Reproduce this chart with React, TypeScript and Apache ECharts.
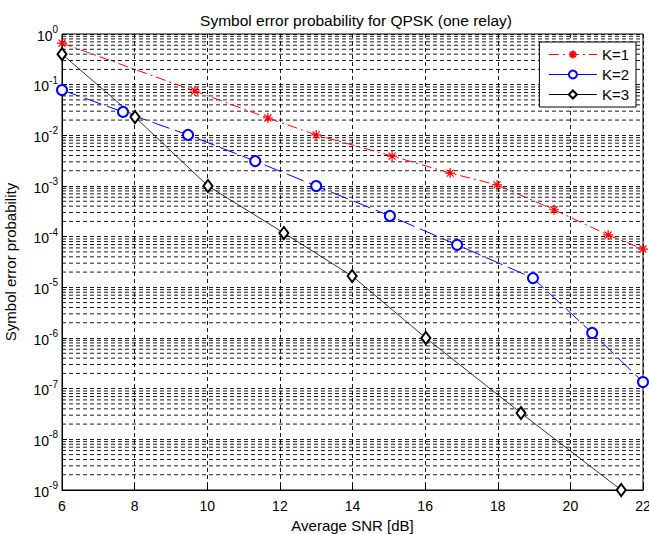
import React, { useEffect, useRef } from "react";
import * as echarts from "echarts";

const titleText = "Symbol error probability for QPSK (one relay)";
const xName = "Average SNR [dB]";
const yName = "Symbol error probability";
const seriesNames = ["K=1", "K=2", "K=3"];

const k1X = [6, 9.66, 11.67, 13.0, 15.09, 16.69, 17.98, 19.55, 21.04, 22];
const k1Y = [0.66, 0.075, 0.022, 0.0102, 0.0039, 0.0018, 0.00105, 0.00034, 0.000108, 5.7e-5];
const k2X = [6, 7.68, 9.47, 11.32, 13.0, 15.03, 16.88, 18.97, 20.6, 22];
const k2Y = [0.0785, 0.029, 0.0102, 0.0031, 0.001, 2.57e-4, 6.9e-5, 1.52e-5, 1.26e-6, 1.35e-7];
const k3X = [6, 8.01, 10.02, 12.11, 13.99, 16.02, 18.64, 21.4];
const k3Y = [0.4, 0.023, 0.001, 1.18e-4, 1.67e-5, 1e-6, 3.3e-8, 1e-9];

const xMin = 6;
const xMax = 22;
const xStep = 2;
const decadeExps = [-9, -8, -7, -6, -5, -4, -3, -2, -1];
const minorMults = [2, 3, 4, 5, 6, 7, 8, 9];

const FONT = "Liberation Sans, Arial, sans-serif";
const STAR = "path://M0,-10L0,10M-10,0L10,0M-7,-7L7,7M-7,7L7,-7";

const zip = (xs: number[], ys: number[]) => xs.map((x, i) => [x, ys[i]]);

export default function App() {
  const ref = useRef<HTMLDivElement>(null);
  useEffect(() => {
    if (!ref.current) return;
    const chart = echarts.init(ref.current, null, { renderer: "svg" });
    const minorVals: number[] = [];
    decadeExps.forEach((e) => minorMults.forEach((m) => minorVals.push(m * Math.pow(10, e))));
    const gridLine = { color: "#000", width: 0.9, type: [4, 3] as number[] };
    const minorSeries = minorVals.map((v, i) => ({
      name: "minor" + i,
      type: "line",
      data: [
        [xMin, v],
        [xMax, v],
      ],
      symbol: "none",
      silent: true,
      z: 1,
      lineStyle: gridLine,
    }));
    chart.setOption({
      animation: false,
      backgroundColor: "#fff",
      title: {
        text: titleText,
        left: 351,
        top: 7,
        textAlign: "center",
        textStyle: { fontFamily: FONT, fontSize: 15.5, fontWeight: "normal", color: "#000" },
      },
      legend: {
        orient: "vertical",
        right: 13,
        top: 42,
        padding: [5, 7, 5, 9],
        itemGap: 5,
        itemWidth: 48,
        itemHeight: 10,
        backgroundColor: "#fff",
        borderColor: "#000",
        borderWidth: 1,
        borderRadius: 0,
        lineStyle: { width: 1 },
        textStyle: { fontFamily: FONT, fontSize: 15, color: "#000" },
        data: [
          { name: seriesNames[0] },
          { name: seriesNames[1], lineStyle: { type: "solid", width: 1 } },
          { name: seriesNames[2] },
        ],
      },
      grid: {
        left: 62,
        right: 6,
        top: 34,
        bottom: 44,
        outerBoundsMode: "none",
        containLabel: false,
        show: true,
        borderColor: "#000",
        borderWidth: 1,
        backgroundColor: "#fff",
      },
      xAxis: {
        type: "value",
        min: xMin,
        max: xMax,
        interval: xStep,
        name: xName,
        nameLocation: "middle",
        nameGap: 26,
        nameTextStyle: { fontFamily: FONT, fontSize: 15, color: "#000" },
        axisLine: { lineStyle: { color: "#000" } },
        axisTick: { inside: true, length: 5, lineStyle: { color: "#000" } },
        axisLabel: { fontFamily: FONT, fontSize: 14, color: "#000", margin: 9 },
        splitLine: { show: true, lineStyle: gridLine },
      },
      yAxis: {
        type: "log",
        logBase: 10,
        min: 1e-9,
        max: 1,
        interval: 1,
        name: yName,
        nameLocation: "middle",
        nameGap: 44,
        nameTextStyle: { fontFamily: FONT, fontSize: 15, color: "#000" },
        axisLine: { lineStyle: { color: "#000" } },
        axisTick: { inside: true, length: 5, lineStyle: { color: "#000" } },
        axisLabel: {
          margin: 4,
          formatter: (v: number) => `{b|10}{s|${Math.round(Math.log10(v))}}`,
          rich: {
            b: { fontFamily: FONT, fontSize: 14, color: "#000", verticalAlign: "bottom", padding: [0, 0, 1, 0] },
            s: { fontFamily: FONT, fontSize: 10, color: "#000", verticalAlign: "bottom", padding: [0, 0, 9, 0] },
          },
        },
        splitLine: { show: true, lineStyle: gridLine },
      },
      series: [
        ...minorSeries,
        {
          name: seriesNames[0],
          type: "line",
          data: zip(k1X, k1Y),
          z: 3,
          symbol: STAR,
          symbolSize: 10,
          showAllSymbol: true,
          itemStyle: { color: "#ff0000", borderColor: "#ff0000", borderWidth: 1.2 },
          lineStyle: { color: "#ff0000", width: 1, type: [10, 4, 2, 4] },
        },
        {
          name: seriesNames[1],
          type: "line",
          data: zip(k2X, k2Y),
          z: 3,
          symbol: "emptyCircle",
          symbolSize: 10,
          showAllSymbol: true,
          itemStyle: { color: "#0000ff", borderWidth: 0.9 },
          lineStyle: { color: "#0000ff", width: 1, type: [18, 6] },
        },
        {
          name: seriesNames[2],
          type: "line",
          data: zip(k3X, k3Y),
          z: 3,
          symbol: "emptyDiamond",
          symbolSize: [9, 12],
          showAllSymbol: true,
          itemStyle: { color: "#000", borderWidth: 0.8 },
          lineStyle: { color: "#000", width: 0.8 },
        },
      ],
    });
    return () => chart.dispose();
  }, []);
  return (
    <div
      ref={ref}
      style={{ position: "fixed", left: 0, top: 0, width: 649, height: 534, background: "#fff" }}
    />
  );
}
